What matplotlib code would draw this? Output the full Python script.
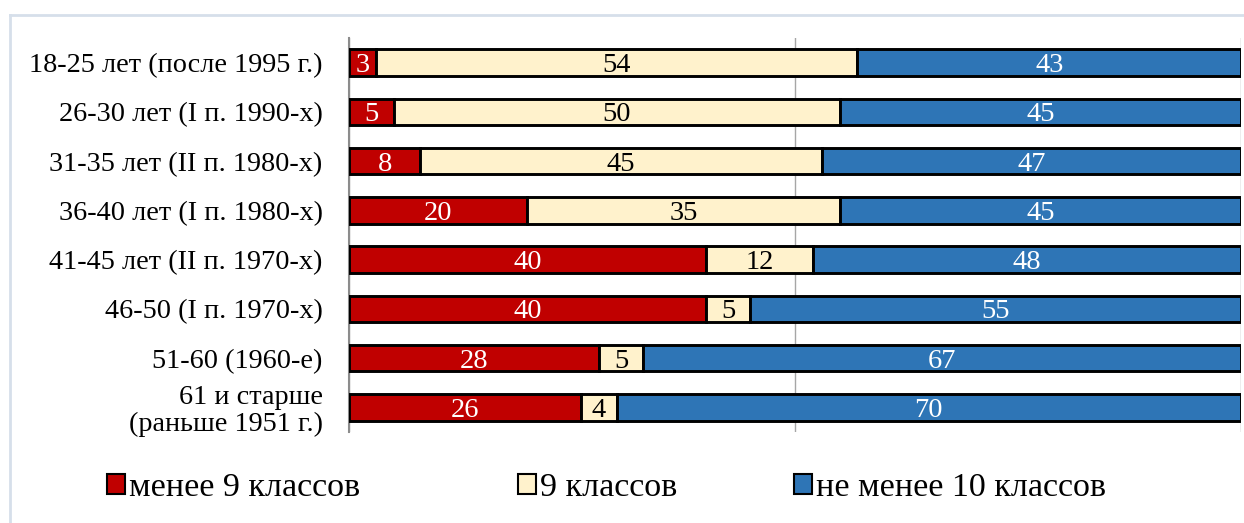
import matplotlib
matplotlib.use("Agg")
import matplotlib.pyplot as plt
from matplotlib.patches import Patch
from matplotlib.lines import Line2D

categories = ["18-25 лет (после 1995 г.)", "26-30 лет (I п. 1990-х)", "31-35 лет (II п. 1980-х)",
              "36-40 лет (I п. 1980-х)", "41-45 лет (II п. 1970-х)", "46-50 (I п. 1970-х)",
              "51-60 (1960-е)", "61 и старше\n(раньше 1951 г.)"]
less9 = [3, 5, 8, 20, 40, 40, 28, 26]
nine = [54, 50, 45, 35, 12, 5, 5, 4]
ten_plus = [43, 45, 47, 45, 48, 55, 67, 70]
series_names = ["менее 9 классов", "9 классов", "не менее 10 классов"]
colors = ["#C00000", "#FFF2CC", "#2E75B6"]
text_colors = ["white", "black", "white"]

plt.rcParams['font.family'] = ['Liberation Serif', 'DejaVu Serif']

fig = plt.figure(figsize=(12.44, 5.23), dpi=100)
ax = fig.add_axes([349/1244, 1-432/523, (1241-349)/1244, (432-38)/523])

y = list(range(len(categories)))
left = [0]*len(categories)
for vals, col, tc, name in zip([less9, nine, ten_plus], colors, text_colors, series_names):
    bars = ax.barh(y, vals, left=left, height=0.54, color=col, edgecolor='black', linewidth=2.1,
                   label=name, zorder=3)
    labels = ax.bar_label(bars, labels=[str(v) for v in vals], label_type='center', color=tc,
                          fontsize=20.5)
    for t in labels:
        t.set_va('center_baseline')
    left = [l + v for l, v in zip(left, vals)]

ax.set_xlim(0, 100)
ax.set_ylim(7.5, -0.5)
ax.set_xticks([0, 50, 100])
ax.set_xticklabels([])
ax.tick_params(axis='x', length=0)
ax.tick_params(axis='y', length=0, labelsize=20.3, pad=19)
ax.set_yticks(y)
ax.set_yticklabels(categories, linespacing=1.1)
ax.grid(axis='x', color='#A6A6A6', linewidth=1, zorder=0)
for s in ['top', 'right', 'bottom']:
    ax.spines[s].set_visible(False)
ax.spines['left'].set_color('#8C8C8C')
ax.spines['left'].set_linewidth(1.5)

# outer chart border (light)
fig.add_artist(Line2D([10/1244, 1.0], [1-15/523, 1-15/523], transform=fig.transFigure,
                      color='#D6DFEA', linewidth=2))
fig.add_artist(Line2D([10/1244, 10/1244], [0, 1-15/523], transform=fig.transFigure,
                      color='#D6DFEA', linewidth=2))

legend_x = [107/1244, 518/1244, 794/1244]
for name, col, lx in zip(series_names, colors, legend_x):
    h = Patch(facecolor=col, edgecolor='black', linewidth=1.5)
    fig.legend(handles=[h], labels=[name], loc='center left', bbox_to_anchor=(lx, 1-488/523),
               frameon=False, fontsize=24.5, handlelength=0.52, handleheight=0.52,
               handletextpad=0.12, borderpad=0, borderaxespad=0)

fig.savefig("out.png", dpi=100)
